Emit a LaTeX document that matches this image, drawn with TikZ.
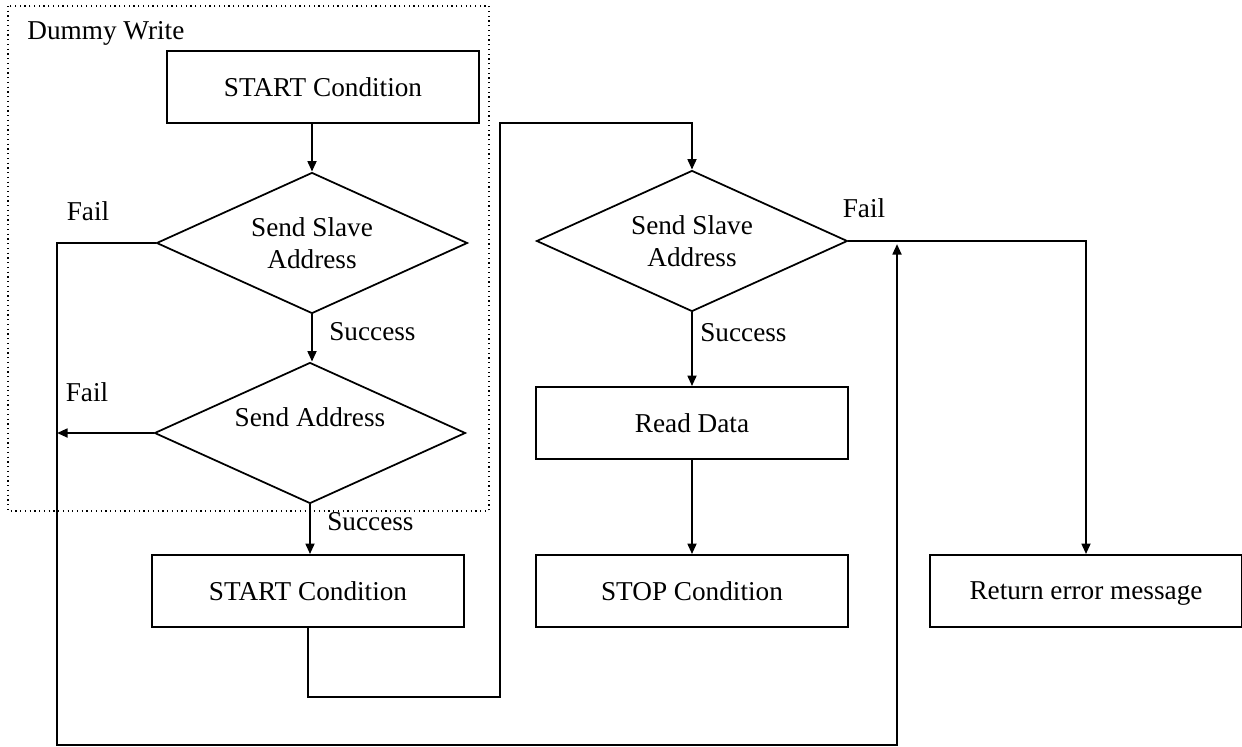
\documentclass[tikz,border=0pt]{standalone}
\usepackage{fontspec}
\setmainfont{Liberation Serif}
\usetikzlibrary{shapes.geometric,arrows.meta,positioning}

\begin{document}
\begin{tikzpicture}[
    x=0.02cm, y=-0.02cm,
    every node/.style={font=\fontsize{15.5}{18}\selectfont},
    process/.style={rectangle, draw, line width=1pt, minimum width=6.24cm, minimum height=1.44cm, inner sep=0pt, text depth=0pt},
    decision/.style={diamond, draw, line width=1pt, aspect=2.2, minimum width=6.22cm, minimum height=2.82cm, inner sep=0pt, align=center},
    tag/.style={inner sep=0pt},
    flow/.style={line width=1.3pt, -{Triangle[length=6pt,width=5pt]}},
    link/.style={line width=1.3pt}
  ]
  \useasboundingbox (0,0) rectangle (1242,747);

  % Dummy write frame
  \draw[dotted, line width=0.7pt] (8,6) rectangle (489,511);
  \node[tag, anchor=west] (dummy) at (27,33) {Dummy Write};

  % Nodes
  \node[process] (start1) at (323,87) {START Condition};
  \node[decision] (slave1) at (312,243) {Send Slave\\Address};
  \node[decision] (addr) at (310,433) {Send Address\\\mbox{}};
  \node[process] (start2) at (308,591) {START Condition};
  \node[decision] (slave2) at (692,241) {Send Slave\\Address};
  \node[process] (read) at (692,423) {Read Data};
  \node[process] (stop) at (692,591) {STOP Condition};
  \node[process] (error) at (1086,591) {Return error message};

  % Turning points
  \coordinate (failin) at (57,433);
  \coordinate (loopL) at (57,745);
  \coordinate (loopR) at (897,745);
  \coordinate (joinR) at (897,244);
  \coordinate (turnA) at (500,697);
  \coordinate (turnB) at (500,123);

  % Edges
  \draw[flow] (start1.south -| slave1.north) -- (slave1.north);
  \draw[flow] (slave1.south) -- (slave1.south |- addr.north);
  \draw[flow] (addr.south) -- (addr.south |- start2.north);
  \draw[flow] (addr.west) -- (failin);
  \draw[flow] (slave1.west) -| (loopL) -- (loopR) -- (joinR);
  \draw[flow] (start2.south) |- (turnA) -- (turnB) -| (slave2.north);
  \draw[flow] (slave2.south) -- (read.north);
  \draw[flow] (read.south) -- (stop.north);
  \draw[flow] (slave2.east) -| (error.north);

  % Labels
  \node[tag] (fail1) at (88,211) {Fail};
  \node[tag, anchor=west] (succ1) at (329,332) {Success};
  \node[tag] (fail2) at (87,392) {Fail};
  \node[tag, anchor=west] (succ2) at (327,522) {Success};
  \node[tag, anchor=west] (succ3) at (700,333) {Success};
  \node[tag] (fail3) at (864,208) {Fail};

\end{tikzpicture}
\end{document}
